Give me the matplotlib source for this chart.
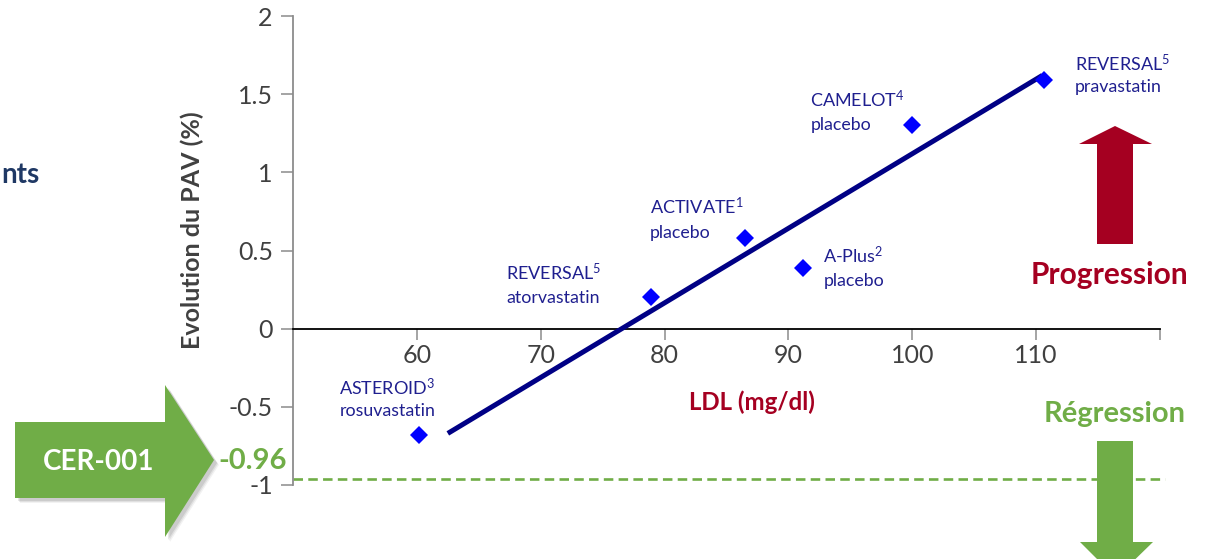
import matplotlib
matplotlib.use("Agg")
import matplotlib.pyplot as plt
from matplotlib.patches import Polygon
from matplotlib.transforms import Affine2D

plt.rcParams['font.family'] = ['Lato', 'DejaVu Sans']
plt.rcParams['mathtext.fontset'] = 'custom'
plt.rcParams['mathtext.rm'] = 'Lato'
plt.rcParams['mathtext.it'] = 'Lato:italic'
plt.rcParams['mathtext.bf'] = 'Lato:bold'
plt.rcParams['axes.unicode_minus'] = False

# Trials: mean LDL (mg/dl) vs change in percent atheroma volume (%)
studies = ["ASTEROID", "REVERSAL", "ACTIVATE", "A-Plus", "CAMELOT", "REVERSAL"]
refs = ["3", "5", "1", "2", "4", "5"]
treatments = ["rosuvastatin", "atorvastatin", "placebo", "placebo", "placebo", "pravastatin"]
ldl = [60.2, 78.9, 86.5, 91.2, 100.0, 110.6]
pav = [-0.68, 0.20, 0.58, 0.39, 1.30, 1.59]

# Fitted trend line end points
trend_ldl = [62.5, 110.5]
trend_pav = [-0.67, 1.62]

# CER-001 result
cer_value = -0.96

x_ticks = [50, 60, 70, 80, 90, 100, 110, 120]
x_labels = ["", "60", "70", "80", "90", "100", "110", ""]
y_ticks = [-1, -0.5, 0, 0.5, 1, 1.5, 2]
y_labels = ["-1", "-0.5", "0", "0.5", "1", "1.5", "2"]

W, H = 1206, 559
NAVY_TXT = "#1f1f8f"
LINE_NAVY = "#000085"
MARKER = "#0000ff"
RED = "#a50021"
GREEN = "#70ad47"
GREY = "#404040"

fig = plt.figure(figsize=(W / 100, H / 100), dpi=100)
# pixel-based transform for figure decorations (origin top-left)
pix = Affine2D().scale(1 / W, -1 / H).translate(0, 1) + fig.transFigure

ax = fig.add_axes([293 / W, 1 - 485 / H, 867 / W, 469 / H])
ax.set_xlim(50, 120)
ax.set_ylim(-1, 2)
ax.patch.set_alpha(0)

for s in ("top", "right"):
    ax.spines[s].set_visible(False)
ax.spines["left"].set_color("#8c8c8c")
ax.spines["left"].set_linewidth(1.3)
ax.spines["bottom"].set_position(("data", 0))
ax.spines["bottom"].set_color("#000000")
ax.spines["bottom"].set_linewidth(1.3)

ax.set_xticks(x_ticks)
ax.set_xticklabels(x_labels)
ax.set_yticks(y_ticks)
ax.set_yticklabels(y_labels)
ax.tick_params(axis="x", direction="out", length=8, width=1.1, color="#8c8c8c",
               pad=3, labelsize=18, labelcolor=GREY)
ax.tick_params(axis="y", direction="out", length=8.5, width=1.1, color="#8c8c8c",
               pad=6, labelsize=18, labelcolor=GREY)

# trend line
ax.plot(trend_ldl, trend_pav, color=LINE_NAVY, lw=3.6, solid_capstyle="butt", zorder=3)

# study points
ax.plot(ldl, pav, linestyle="none", marker="D", markersize=9.5, color=MARKER,
        markeredgewidth=0, zorder=4)

# study labels (offsets in pixels from each point)
name_off = [(-80, 40), (-145, 17), (-95, 24), (20, 5), (-102, 18), (31, 9)]
drug_off = [(-80, 19), (-145, -6), (-95, 0), (20, -18), (-102, -5), (31, -12)]
for i in range(len(studies)):
    ax.annotate(f"{studies[i]}$^{{{refs[i]}}}$", xy=(ldl[i], pav[i]),
                xytext=name_off[i], textcoords="offset pixels",
                ha="left", va="baseline", fontsize=13, color=NAVY_TXT)
    ax.annotate(treatments[i], xy=(ldl[i], pav[i]),
                xytext=drug_off[i], textcoords="offset pixels",
                ha="left", va="baseline", fontsize=12.8, color=NAVY_TXT)

# CER-001 reference line
ax.axhline(cer_value, xmin=0, xmax=1.006, color=GREEN, lw=1.9,
           dashes=(3.6, 2.0), clip_on=False, zorder=2)

# axis titles
fig.text(752 / W, 1 - 410 / H, "LDL (mg/dl)", ha="center", va="baseline",
         fontsize=17.3, fontweight="bold", color=RED)
fig.text(192 / W, 1 - 230 / H, "Evolution du PAV (%)", ha="center", va="center",
         rotation=90, fontsize=18, fontweight="bold", color=GREY)

# CER-001 block arrow with soft shadow
cer_arrow = [(15, 422), (165, 422), (165, 385), (214, 460), (165, 537), (165, 498), (15, 498)]
for k, a in [(5, 0.05), (4, 0.07), (3, 0.09)]:
    fig.patches.append(Polygon([(x + k, y + k) for x, y in cer_arrow], closed=True,
                               transform=pix, facecolor="#000000", alpha=a,
                               edgecolor="none"))
fig.patches.append(Polygon(cer_arrow, closed=True, transform=pix,
                           facecolor=GREEN, edgecolor="none"))
fig.text(99 / W, 1 - 462 / H, "CER-001", ha="center", va="center",
         fontsize=20, fontweight="bold", color="white")
fig.text(253 / W, 1 - 461 / H, f"{cer_value:.2f}", ha="center", va="center",
         fontsize=21, fontweight="bold", color=GREEN)

# progression / regression arrows
up_arrow = [(1097, 244), (1097, 144), (1079, 144), (1115, 126), (1152, 144),
            (1133, 144), (1133, 244)]
fig.patches.append(Polygon(up_arrow, closed=True, transform=pix,
                           facecolor=RED, edgecolor="none"))
down_arrow = [(1097, 441), (1097, 542), (1080, 542), (1116, 578), (1153, 542),
              (1133, 542), (1133, 441)]
fig.patches.append(Polygon(down_arrow, closed=True, transform=pix,
                           facecolor=GREEN, edgecolor="none"))

fig.text(1109 / W, 1 - 284 / H, "Progression", ha="center", va="baseline",
         fontsize=21.5, fontweight="bold", color=RED)
fig.text(1115 / W, 1 - 422 / H, "Régression", ha="center", va="baseline",
         fontsize=21, fontweight="bold", color=GREEN)

# heading fragment at the left edge
fig.text(1 / W, 1 - 183 / H, "nts", ha="left", va="baseline",
         fontsize=20, fontweight="bold", color="#1f3864")

fig.savefig("out.png", dpi=100)
